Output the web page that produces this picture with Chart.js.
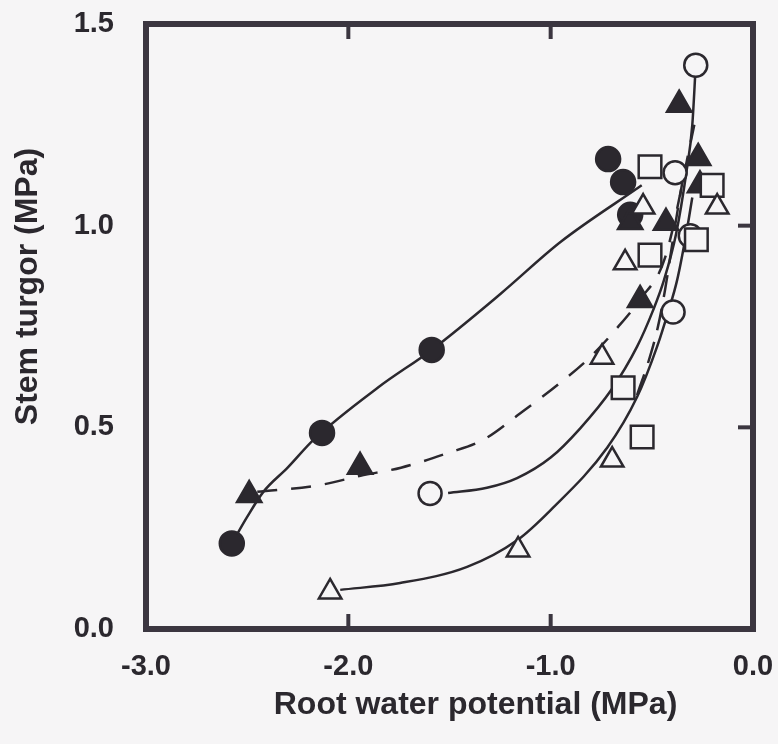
<!DOCTYPE html>
<html>
<head>
<meta charset="utf-8">
<script src="https://cdn.jsdelivr.net/npm/chart.js@4.4.0/dist/chart.umd.min.js"></script>
<style>
  html, body { margin: 0; padding: 0; background: #f6f5f6; }
</style>
</head>
<body>
<canvas id="chart" width="778" height="744"></canvas>
<script>
// axis ticks and titles
const xTickValues = [-3, -2, -1, 0];
const yTickValues = [0, 0.5, 1.0, 1.5];
const xTitle = "Root water potential (MPa)";
const yTitle = "Stem turgor (MPa)";

// measured points (root water potential, stem turgor)
const filledCircleX = [-2.576, -2.13, -1.588, -0.716, -0.642, -0.607];
const filledCircleY = [0.212, 0.486, 0.692, 1.165, 1.108, 1.027];

const filledTriangleX = [-2.49, -1.942, -0.607, -0.558, -0.43, -0.365, -0.271, -0.262];
const filledTriangleY = [0.332, 0.402, 1.009, 0.816, 1.007, 1.30, 1.168, 1.10];

const openCircleX = [-1.596, -0.395, -0.31, -0.385, -0.283];
const openCircleY = [0.336, 0.786, 0.975, 1.131, 1.398];

const openSquareX = [-0.642, -0.548, -0.509, -0.28, -0.509, -0.202];
const openSquareY = [0.598, 0.476, 0.927, 0.965, 1.146, 1.10];

const openTriangleX = [-2.09, -1.161, -0.696, -0.746, -0.632, -0.543, -0.177];
const openTriangleY = [0.092, 0.196, 0.419, 0.674, 0.908, 1.046, 1.046];

// fitted curves
const fitFilledCircleX = [-2.576, -2.50, -2.42, -2.30, -2.17, -1.85, -1.588, -1.25, -0.95, -0.55];
const fitFilledCircleY = [0.212, 0.278, 0.34, 0.40, 0.47, 0.60, 0.692, 0.83, 0.96, 1.10];

const fitFilledTriangleX = [-2.45, -2.14, -1.94, -1.74, -1.51, -1.33, -1.15, -0.954, -0.805, -0.667, -0.56, -0.435, -0.29];
const fitFilledTriangleY = [0.34, 0.357, 0.38, 0.40, 0.436, 0.47, 0.535, 0.61, 0.674, 0.749, 0.816, 0.92, 1.25];

const fitOpenCircleX = [-1.507, -1.315, -1.166, -1.0, -0.855, -0.70, -0.573, -0.494, -0.44, -0.38, -0.33, -0.30, -0.283];
const fitOpenCircleY = [0.337, 0.35, 0.374, 0.425, 0.497, 0.593, 0.70, 0.79, 0.865, 0.98, 1.13, 1.25, 1.398];

const fitOpenTriangleX = [-2.04, -1.744, -1.413, -1.166, -1.0, -0.72, -0.573, -0.474, -0.42, -0.375, -0.33, -0.30];
const fitOpenTriangleY = [0.097, 0.114, 0.154, 0.22, 0.295, 0.45, 0.575, 0.70, 0.785, 0.865, 0.98, 1.07];

const fitOpenSquareX = [-0.573, -0.51, -0.47, -0.435, -0.385, -0.345];
const fitOpenSquareY = [0.58, 0.674, 0.749, 0.84, 1.0, 1.12];

const ink = "#2b282e";
const frameColor = "#3b3640";
const paper = "#f6f5f6";
const fontFamily = "'Liberation Sans', Arial, sans-serif";

function pts(xs, ys) {
  return xs.map((x, i) => ({ x: x, y: ys[i] }));
}

function curve(xs, ys, dash) {
  return {
    data: pts(xs, ys),
    showLine: true,
    pointRadius: 0,
    borderColor: ink,
    borderWidth: 2.5,
    borderDash: dash || [],
    cubicInterpolationMode: "monotone",
    fill: false,
    order: 2,
  };
}

function marks(xs, ys, style, radius, filled) {
  return {
    data: pts(xs, ys),
    showLine: false,
    pointStyle: style,
    pointRadius: radius,
    pointBorderWidth: 2.5,
    pointBorderColor: ink,
    pointBackgroundColor: filled ? ink : paper,
    order: 1,
  };
}

// frame round the plot, the short inward ticks and the axis titles
const framePlugin = {
  id: "frame",
  afterDraw(chart) {
    const { ctx, chartArea: a, scales } = chart;
    ctx.save();
    ctx.strokeStyle = frameColor;
    ctx.lineWidth = 6;
    ctx.lineCap = "square";
    ctx.strokeRect(a.left, a.top, a.right - a.left, a.bottom - a.top);

    ctx.lineWidth = 4;
    ctx.lineCap = "butt";
    [-2, -1].forEach((v) => {
      const px = scales.x.getPixelForValue(v);
      ctx.beginPath();
      ctx.moveTo(px, a.bottom);
      ctx.lineTo(px, a.bottom - 15);
      ctx.moveTo(px, a.top);
      ctx.lineTo(px, a.top + 15);
      ctx.stroke();
    });
    [0.5, 1.0].forEach((v) => {
      const py = scales.y.getPixelForValue(v);
      ctx.beginPath();
      ctx.moveTo(a.right, py);
      ctx.lineTo(a.right - 15, py);
      ctx.stroke();
    });

    // titles sit a little off-centre in the original
    ctx.fillStyle = ink;
    ctx.font = "bold 32px " + fontFamily;
    ctx.textAlign = "center";
    ctx.textBaseline = "middle";
    ctx.fillText(xTitle, (a.left + a.right) / 2 + 26, 705);
    ctx.translate(28, (a.top + a.bottom) / 2 - 40);
    ctx.rotate(-Math.PI / 2);
    ctx.fillText(yTitle, 0, 0);
    ctx.restore();
  },
};

const ctx = document.getElementById("chart").getContext("2d");
new Chart(ctx, {
  type: "scatter",
  data: {
    datasets: [
      curve(fitFilledCircleX, fitFilledCircleY),
      curve(fitFilledTriangleX, fitFilledTriangleY, [20, 14]),
      curve(fitOpenCircleX, fitOpenCircleY),
      curve(fitOpenTriangleX, fitOpenTriangleY),
      curve(fitOpenSquareX, fitOpenSquareY, [22, 12]),
      marks(openTriangleX, openTriangleY, "triangle", 13, false),
      marks(openSquareX, openSquareY, "rect", 16, false),
      marks(openCircleX, openCircleY, "circle", 11.5, false),
      marks(filledTriangleX, filledTriangleY, "triangle", 14, true),
      marks(filledCircleX, filledCircleY, "circle", 12, true),
    ],
  },
  options: {
    responsive: false,
    animation: false,
    layout: { padding: { top: 24, right: 25, left: 0, bottom: 0 } },
    plugins: {
      legend: { display: false },
      tooltip: { enabled: false },
    },
    scales: {
      x: {
        type: "linear",
        min: -3,
        max: 0,
        afterBuildTicks: (scale) => {
          scale.ticks = xTickValues.map((v) => ({ value: v }));
        },
        afterFit: (scale) => {
          scale.height = 115;
          scale.paddingLeft = 0;
          scale.paddingRight = 0;
        },
        grid: { display: false, drawTicks: false },
        border: { display: false },
        ticks: {
          padding: 21,
          color: ink,
          font: { family: fontFamily, size: 29, weight: "bold" },
          callback: (v) => v.toFixed(1),
        },
      },
      y: {
        type: "linear",
        min: 0,
        max: 1.5,
        afterBuildTicks: (scale) => {
          scale.ticks = yTickValues.map((v) => ({ value: v }));
        },
        afterFit: (scale) => {
          scale.width = 146;
          scale.paddingTop = 0;
          scale.paddingBottom = 0;
        },
        grid: { display: false, drawTicks: false },
        border: { display: false },
        ticks: {
          padding: 32,
          color: ink,
          font: { family: fontFamily, size: 29, weight: "bold" },
          callback: (v) => v.toFixed(1),
        },
      },
    },
  },
  plugins: [framePlugin],
});
</script>
</body>
</html>
